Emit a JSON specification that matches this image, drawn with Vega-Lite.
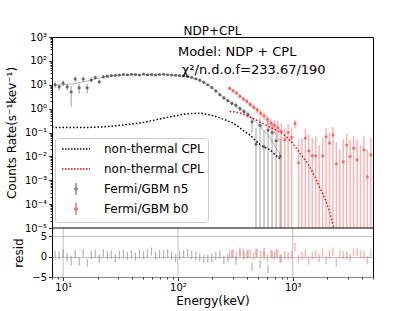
{
  "$schema": "https://vega.github.io/schema/vega-lite/v6.json",
  "width": 321,
  "height": 240,
  "autosize": "none",
  "padding": {"left": 52, "top": 37, "right": 42, "bottom": 34},
  "title": {"text": "NDP+CPL", "fontSize": 12, "fontWeight": "normal", "font": "DejaVu Sans", "offset": -6, "frame": "group", "color": "black"},
  "config": {
    "font": "DejaVu Sans",
    "view": {"stroke": "black", "strokeWidth": 1},
    "axis": {"labelFontSize": 10, "titleFontSize": 12, "titleFontWeight": "normal", "labelColor": "black", "titleColor": "black", "tickColor": "black", "tickWidth": 0.8, "domain": false, "grid": false, "labelFont": "DejaVu Sans", "titleFont": "DejaVu Sans", "labelOverlap": false, "labelFlush": false}
  },
  "datasets": {
    "n5": [
      {"s":"n5","e":8.51,"v":10,"lo":7.2,"hi":13.5,"rl":-0.5,"rh":1.5},
      {"s":"n5","e":9.23,"v":8.1,"lo":5.6,"hi":11,"rl":-0.7,"rh":1.3},
      {"s":"n5","e":10.0,"v":11.7,"lo":8.6,"hi":15,"rl":-0.2,"rh":1.8},
      {"s":"n5","e":10.84,"v":8.1,"lo":5.8,"hi":11,"rl":-1.2,"rh":0.8},
      {"s":"n5","e":11.75,"v":5.0,"lo":1.2,"hi":9,"rl":-2.2,"rh":0.2},
      {"s":"n5","e":12.74,"v":17.4,"lo":13.2,"hi":22,"rl":-0.4,"rh":1.6},
      {"s":"n5","e":13.8,"v":7.4,"lo":4.2,"hi":11,"rl":-2.2,"rh":-0.2},
      {"s":"n5","e":14.96,"v":17.4,"lo":13.5,"hi":22,"rl":-0.1,"rh":1.9},
      {"s":"n5","e":16.22,"v":7.4,"lo":4.3,"hi":11,"rl":-2.5,"rh":-0.5},
      {"s":"n5","e":17.58,"v":15.8,"lo":12.5,"hi":19.5,"rl":-0.6,"rh":1.4},
      {"s":"n5","e":19.05,"v":20,"lo":16.5,"hi":24,"rl":-0.3,"rh":1.7},
      {"s":"n5","e":20.65,"v":13.2,"lo":10.5,"hi":16,"rl":-1.5,"rh":0.5},
      {"s":"n5","e":22.39,"v":21.4,"lo":18.5,"hi":24.5,"rl":-0.2,"rh":1.8},
      {"s":"n5","e":24.27,"v":22.9,"lo":20,"hi":26,"rl":-0.7,"rh":1.3},
      {"s":"n5","e":26.3,"v":24,"lo":21.5,"hi":26.8,"rl":-0.5,"rh":1.5},
      {"s":"n5","e":28.51,"v":25.1,"lo":22.8,"hi":27.5,"rl":-1.3,"rh":0.7},
      {"s":"n5","e":30.9,"v":25.7,"lo":23.6,"hi":27.8,"rl":-0.6,"rh":1.4},
      {"s":"n5","e":33.5,"v":26.9,"lo":24.8,"hi":29.1,"rl":-0.4,"rh":1.6},
      {"s":"n5","e":36.31,"v":26.3,"lo":24.2,"hi":28.4,"rl":-0.8,"rh":1.2},
      {"s":"n5","e":39.36,"v":27.5,"lo":25.3,"hi":29.7,"rl":-0.5,"rh":1.5},
      {"s":"n5","e":42.66,"v":26.9,"lo":24.8,"hi":29.1,"rl":-1.0,"rh":1.0},
      {"s":"n5","e":46.24,"v":25.7,"lo":23.6,"hi":27.8,"rl":-0.3,"rh":1.7},
      {"s":"n5","e":50.12,"v":28.2,"lo":26.0,"hi":30.5,"rl":-0.7,"rh":1.3},
      {"s":"n5","e":54.33,"v":26.3,"lo":24.2,"hi":28.4,"rl":-0.1,"rh":1.9},
      {"s":"n5","e":58.88,"v":26.9,"lo":24.8,"hi":29.1,"rl":0.2,"rh":2.2},
      {"s":"n5","e":63.83,"v":25.7,"lo":23.6,"hi":27.8,"rl":-0.8,"rh":1.2},
      {"s":"n5","e":69.18,"v":26.9,"lo":24.8,"hi":29.1,"rl":-0.4,"rh":1.6},
      {"s":"n5","e":74.99,"v":27.5,"lo":25.3,"hi":29.7,"rl":-0.5,"rh":1.5},
      {"s":"n5","e":81.28,"v":26.3,"lo":24.2,"hi":28.4,"rl":-0.2,"rh":1.8},
      {"s":"n5","e":88.1,"v":25.7,"lo":23.6,"hi":27.8,"rl":-0.8,"rh":1.2},
      {"s":"n5","e":95.5,"v":25.1,"lo":23.1,"hi":27.1,"rl":-1.4,"rh":0.6},
      {"s":"n5","e":103.5,"v":24.0,"lo":22.1,"hi":26.0,"rl":-0.7,"rh":1.3},
      {"s":"n5","e":112.2,"v":23.4,"lo":21.5,"hi":25.3,"rl":-0.4,"rh":1.6},
      {"s":"n5","e":121.6,"v":21.9,"lo":20.1,"hi":23.7,"rl":-0.1,"rh":1.9},
      {"s":"n5","e":131.8,"v":20.4,"lo":18.7,"hi":22.1,"rl":-0.6,"rh":1.4},
      {"s":"n5","e":142.9,"v":17.8,"lo":16.3,"hi":19.3,"rl":-0.9,"rh":1.1},
      {"s":"n5","e":154.9,"v":15.5,"lo":14.1,"hi":16.9,"rl":-1.2,"rh":0.8},
      {"s":"n5","e":167.9,"v":12.6,"lo":11.4,"hi":13.8,"rl":-1.6,"rh":0.4},
      {"s":"n5","e":182.0,"v":10,"lo":9.0,"hi":11.0,"rl":-1.5,"rh":0.5},
      {"s":"n5","e":197.2,"v":7.6,"lo":6.8,"hi":8.4,"rl":-1.3,"rh":0.7},
      {"s":"n5","e":213.8,"v":5.5,"lo":4.9,"hi":6.1,"rl":-0.8,"rh":1.2},
      {"s":"n5","e":231.7,"v":3.8,"lo":3.3,"hi":4.3,"rl":-0.5,"rh":1.5},
      {"s":"n5","e":251.2,"v":2.8,"lo":2.4,"hi":3.2,"rl":-1.8,"rh":0.2},
      {"s":"n5","e":272.3,"v":2.14,"lo":1.8,"hi":2.5,"rl":-1.4,"rh":0.6},
      {"s":"n5","e":295.1,"v":1.66,"lo":1.35,"hi":2.0,"rl":-0.4,"rh":1.6},
      {"s":"n5","e":319.9,"v":1.38,"lo":1.1,"hi":1.7,"rl":-2.0,"rh":0.0},
      {"s":"n5","e":346.7,"v":1.0,"lo":0.78,"hi":1.25,"rl":0.2,"rh":2.2},
      {"s":"n5","e":375.8,"v":0.76,"lo":0.55,"hi":1.0,"rl":-0.7,"rh":1.3},
      {"s":"n5","e":407.4,"v":0.56,"lo":0.38,"hi":0.76,"rl":-0.2,"rh":1.8},
      {"s":"n5","e":441.6,"v":0.28,"lo":0.1,"hi":0.45,"rl":-3.5,"rh":-1.5},
      {"s":"n5","e":478.6,"v":0.032,"lo":0.000001,"hi":0.15,"rl":-0.1,"rh":1.9},
      {"s":"n5","e":518.8,"v":0.2,"lo":0.000001,"hi":0.4,"rl":-2.8,"rh":-0.8},
      {"s":"n5","e":562.3,"v":0.025,"lo":0.000001,"hi":0.12,"rl":0.1,"rh":2.1},
      {"s":"n5","e":609.5,"v":0.126,"lo":0.000001,"hi":0.3,"rl":-4.0,"rh":-2.0},
      {"s":"n5","e":660.7,"v":0.1,"lo":0.000001,"hi":0.25,"rl":-0.5,"rh":1.5},
      {"s":"n5","e":716.1,"v":0.045,"lo":0.000001,"hi":0.14,"rl":-0.2,"rh":1.8},
      {"s":"n5","e":776.2,"v":0.01,"lo":0.000001,"hi":0.06,"rl":-1.5,"rh":0.5}
    ],
    "b0": [
      {"s":"b0","e":281.8,"v":7.1,"lo":6.0,"hi":8.3,"rl":-0.5,"rh":1.5},
      {"s":"b0","e":302.0,"v":5.6,"lo":4.7,"hi":6.6,"rl":-0.2,"rh":1.8},
      {"s":"b0","e":323.6,"v":4.5,"lo":3.7,"hi":5.4,"rl":-0.7,"rh":1.3},
      {"s":"b0","e":346.7,"v":3.3,"lo":2.7,"hi":4.0,"rl":-0.4,"rh":1.6},
      {"s":"b0","e":371.5,"v":2.5,"lo":2.0,"hi":3.1,"rl":0.0,"rh":2.0},
      {"s":"b0","e":398.1,"v":2.0,"lo":1.6,"hi":2.5,"rl":-0.6,"rh":1.4},
      {"s":"b0","e":426.6,"v":1.5,"lo":1.15,"hi":1.9,"rl":-0.3,"rh":1.7},
      {"s":"b0","e":457.1,"v":1.12,"lo":0.85,"hi":1.45,"rl":-0.8,"rh":1.2},
      {"s":"b0","e":489.8,"v":0.89,"lo":0.65,"hi":1.15,"rl":-0.1,"rh":1.9},
      {"s":"b0","e":524.8,"v":0.63,"lo":0.45,"hi":0.85,"rl":-0.5,"rh":1.5},
      {"s":"b0","e":562.3,"v":0.5,"lo":0.33,"hi":0.7,"rl":-0.7,"rh":1.3},
      {"s":"b0","e":602.6,"v":0.355,"lo":0.2,"hi":0.52,"rl":-1.4,"rh":0.6},
      {"s":"b0","e":645.7,"v":0.25,"lo":0.12,"hi":0.4,"rl":-0.4,"rh":1.6},
      {"s":"b0","e":691.8,"v":0.2,"lo":0.08,"hi":0.34,"rl":-0.8,"rh":1.2},
      {"s":"b0","e":741.3,"v":0.158,"lo":0.04,"hi":0.3,"rl":-0.2,"rh":1.8},
      {"s":"b0","e":794.3,"v":0.112,"lo":0.000001,"hi":0.25,"rl":-1.5,"rh":0.5},
      {"s":"b0","e":851.1,"v":0.05,"lo":0.000001,"hi":0.15,"rl":-0.7,"rh":1.3},
      {"s":"b0","e":912.0,"v":0.1,"lo":0.000001,"hi":0.22,"rl":-0.9,"rh":1.1},
      {"s":"b0","e":977.2,"v":0.063,"lo":0.000001,"hi":0.16,"rl":-0.6,"rh":1.4},
      {"s":"b0","e":1047,"v":0.24,"lo":0.16,"hi":0.34,"rl":1.4,"rh":3.4},
      {"s":"b0","e":1122,"v":0.0054,"lo":0.000001,"hi":0.05,"rl":-1.6,"rh":0.4},
      {"s":"b0","e":1202,"v":null,"lo":0.000001,"hi":0.06,"rl":-0.8,"rh":1.2},
      {"s":"b0","e":1288,"v":0.059,"lo":0.000001,"hi":0.15,"rl":-0.2,"rh":1.8},
      {"s":"b0","e":1380,"v":0.017,"lo":0.000001,"hi":0.08,"rl":-2.0,"rh":0.0},
      {"s":"b0","e":1479,"v":0.0105,"lo":0.000001,"hi":0.06,"rl":-0.7,"rh":1.3},
      {"s":"b0","e":1585,"v":0.0105,"lo":0.000001,"hi":0.07,"rl":-0.4,"rh":1.6},
      {"s":"b0","e":1698,"v":null,"lo":0.000001,"hi":0.03,"rl":-1.3,"rh":0.7},
      {"s":"b0","e":1820,"v":0.0105,"lo":0.000001,"hi":0.06,"rl":-0.1,"rh":1.9},
      {"s":"b0","e":1950,"v":0.066,"lo":0.000001,"hi":0.15,"rl":-1.8,"rh":0.2},
      {"s":"b0","e":2089,"v":0.036,"lo":0.000001,"hi":0.1,"rl":-0.5,"rh":1.5},
      {"s":"b0","e":2239,"v":0.079,"lo":0.000001,"hi":0.17,"rl":0.2,"rh":2.2},
      {"s":"b0","e":2399,"v":0.0049,"lo":0.000001,"hi":0.04,"rl":-2.5,"rh":-0.5},
      {"s":"b0","e":2570,"v":null,"lo":0.000001,"hi":0.02,"rl":-0.3,"rh":1.7},
      {"s":"b0","e":2754,"v":0.0059,"lo":0.000001,"hi":0.05,"rl":-0.6,"rh":1.4},
      {"s":"b0","e":2951,"v":0.03,"lo":0.000001,"hi":0.09,"rl":-0.7,"rh":1.3},
      {"s":"b0","e":3162,"v":0.01,"lo":0.000001,"hi":0.05,"rl":-1.4,"rh":0.6},
      {"s":"b0","e":3388,"v":0.022,"lo":0.000001,"hi":0.07,"rl":0.0,"rh":2.0},
      {"s":"b0","e":3631,"v":0.0071,"lo":0.000001,"hi":0.05,"rl":0.1,"rh":2.1},
      {"s":"b0","e":3890,"v":null,"lo":0.000001,"hi":0.03,"rl":-0.4,"rh":1.6},
      {"s":"b0","e":4169,"v":0.0186,"lo":0.000001,"hi":0.07,"rl":-0.6,"rh":1.4},
      {"s":"b0","e":4467,"v":0.00138,"lo":0.000001,"hi":0.02,"rl":-1.9,"rh":0.1},
      {"s":"b0","e":4786,"v":0.0115,"lo":0.000001,"hi":0.06,"rl":-0.2,"rh":1.8}
    ],
    "cpl": [
      {"s":"cpln5","e":8,"v":0.162},{"s":"cpln5","e":14,"v":0.162},{"s":"cpln5","e":20.9,"v":0.17},
      {"s":"cpln5","e":25,"v":0.18},{"s":"cpln5","e":31.2,"v":0.2},{"s":"cpln5","e":38,"v":0.22},
      {"s":"cpln5","e":46.6,"v":0.25},{"s":"cpln5","e":57,"v":0.3},{"s":"cpln5","e":69.5,"v":0.37},
      {"s":"cpln5","e":80,"v":0.43},{"s":"cpln5","e":93.9,"v":0.49},{"s":"cpln5","e":105,"v":0.55},
      {"s":"cpln5","e":119,"v":0.6},{"s":"cpln5","e":137,"v":0.63},{"s":"cpln5","e":155,"v":0.64},
      {"s":"cpln5","e":172,"v":0.6},{"s":"cpln5","e":189,"v":0.55},{"s":"cpln5","e":210,"v":0.48},
      {"s":"cpln5","e":231,"v":0.41},{"s":"cpln5","e":265,"v":0.32},{"s":"cpln5","e":300,"v":0.25},
      {"s":"cpln5","e":345,"v":0.16},{"s":"cpln5","e":380,"v":0.11},{"s":"cpln5","e":421,"v":0.08},
      {"s":"cpln5","e":470,"v":0.048},{"s":"cpln5","e":515,"v":0.032},{"s":"cpln5","e":570,"v":0.024},
      {"s":"cpln5","e":629,"v":0.019},{"s":"cpln5","e":700,"v":0.0118},{"s":"cpln5","e":769,"v":0.008},
      {"s":"cplb0","e":282,"v":0.75},{"s":"cplb0","e":345,"v":0.66},{"s":"cplb0","e":421,"v":0.45},
      {"s":"cplb0","e":515,"v":0.28},{"s":"cplb0","e":629,"v":0.17},{"s":"cplb0","e":769,"v":0.107},
      {"s":"cplb0","e":940,"v":0.049},{"s":"cplb0","e":1148,"v":0.0141},{"s":"cplb0","e":1403,"v":0.0036},
      {"s":"cplb0","e":1712,"v":0.00052},{"s":"cplb0","e":2091,"v":0.000048},{"s":"cplb0","e":2265,"v":0.0000112}
    ],
    "model": [
      {"s":"n5","e":8.51,"v":9.5},{"s":"n5","e":10,"v":10},{"s":"n5","e":12.6,"v":11.2},{"s":"n5","e":15.8,"v":14.1},
      {"s":"n5","e":20,"v":18.6},{"s":"n5","e":25.1,"v":22.9},{"s":"n5","e":31.6,"v":25.1},{"s":"n5","e":39.8,"v":25.7},
      {"s":"n5","e":50.1,"v":26.3},{"s":"n5","e":63.1,"v":26.3},{"s":"n5","e":79.4,"v":26.3},{"s":"n5","e":100,"v":25.1},
      {"s":"n5","e":126,"v":20.9},{"s":"n5","e":158,"v":14.5},{"s":"n5","e":200,"v":7.6},{"s":"n5","e":251,"v":2.8},
      {"s":"n5","e":316,"v":1.41},{"s":"n5","e":398,"v":0.63},{"s":"n5","e":501,"v":0.22},{"s":"n5","e":631,"v":0.063},
      {"s":"n5","e":794,"v":0.01},
      {"s":"b0","e":282,"v":7.1},{"s":"b0","e":320,"v":4.8},{"s":"b0","e":360,"v":3.0},{"s":"b0","e":400,"v":2.0},
      {"s":"b0","e":450,"v":1.25},{"s":"b0","e":500,"v":0.85},{"s":"b0","e":560,"v":0.52},{"s":"b0","e":630,"v":0.3},
      {"s":"b0","e":700,"v":0.2},{"s":"b0","e":800,"v":0.11}
    ],
    "ann": [
      {"t":"Model: NDP + CPL","e":100,"v":235},
      {"t":"χ²/n.d.o.f=233.67/190","e":108,"v":42}
    ],
    "keys": [{"s":"cpln5"},{"s":"cplb0"},{"s":"n5"},{"s":"b0"}],
    "grid": [{"e":10},{"e":100},{"e":1000}]
  },
  "layer": [
    {
      "layer": [
        {
          "data": {"name": "n5"},
          "mark": {"type": "rule", "strokeWidth": 1.3, "opacity": 0.6, "color": "#808080"},
          "encoding": {
            "x": {"field": "e", "type": "quantitative",
              "scale": {"type": "log", "domain": [8, 5000], "nice": false},
              "axis": {
                "title": "Energy(keV)",
                "values": [8,9,10,20,30,40,50,60,70,80,90,100,200,300,400,500,600,700,800,900,1000,2000,3000,4000,5000],
                "labelExpr": "abs(log(datum.value)/LN10-round(log(datum.value)/LN10))<0.001 ? '10' + ['⁰','¹','²','³'][round(log(datum.value)/LN10)] : ''",
                "tickSize": {"condition": {"test": "abs(log(datum.value)/LN10-round(log(datum.value)/LN10))<0.001", "value": 3.5}, "value": 2},
                "labelPadding": 2,
                "titlePadding": 3
              }
            },
            "y": {"field": "lo", "type": "quantitative",
              "scale": {"type": "log", "domain": [0.00001, 1000], "range": [191, 0], "nice": false, "clamp": true},
              "axis": {
                "orient": "left",
                "title": "Counts Rate(s⁻¹kev⁻¹)",
                "values": [0.00001,0.00002,0.00003,0.00004,0.00005,0.00006,0.00007,0.00008,0.00009,0.0001,0.0002,0.0003,0.0004,0.0005,0.0006,0.0007,0.0008,0.0009,0.001,0.002,0.003,0.004,0.005,0.006,0.007,0.008,0.009,0.01,0.02,0.03,0.04,0.05,0.06,0.07,0.08,0.09,0.1,0.2,0.3,0.4,0.5,0.6,0.7,0.8,0.9,1,2,3,4,5,6,7,8,9,10,20,30,40,50,60,70,80,90,100,200,300,400,500,600,700,800,900,1000],
                "labelExpr": "abs(log(datum.value)/LN10-round(log(datum.value)/LN10))<0.001 ? '10' + ['⁻⁵','⁻⁴','⁻³','⁻²','⁻¹','⁰','¹','²','³'][round(log(datum.value)/LN10)+5] : ''",
                "tickSize": {"condition": {"test": "abs(log(datum.value)/LN10-round(log(datum.value)/LN10))<0.001", "value": 3.5}, "value": 2},
                "labelPadding": 2,
                "titlePadding": 6
              }
            },
            "y2": {"field": "hi"}
          }
        },
        {
          "data": {"name": "b0"},
          "mark": {"type": "rule", "strokeWidth": 1.5, "opacity": 0.4, "color": "#ff4040"},
          "encoding": {
            "x": {"field": "e", "type": "quantitative"},
            "y": {"field": "lo", "type": "quantitative"},
            "y2": {"field": "hi"}
          }
        },
        {
          "data": {"name": "model"},
          "mark": {"type": "line", "strokeWidth": 1, "opacity": 0.55, "color": "#777777"},
          "encoding": {
            "x": {"field": "e", "type": "quantitative"},
            "y": {"field": "v", "type": "quantitative"}
          },
          "transform": [{"filter": "datum.s=='n5'"}]
        },
        {
          "data": {"name": "model"},
          "mark": {"type": "line", "strokeWidth": 1, "opacity": 0.4, "color": "#ff3030"},
          "encoding": {
            "x": {"field": "e", "type": "quantitative"},
            "y": {"field": "v", "type": "quantitative"}
          },
          "transform": [{"filter": "datum.s=='b0'"}]
        },
        {
          "data": {"name": "cpl"},
          "mark": {"type": "line", "strokeWidth": 1.5, "strokeDash": [1.5, 2], "interpolate": "monotone", "color": "black"},
          "encoding": {
            "x": {"field": "e", "type": "quantitative"},
            "y": {"field": "v", "type": "quantitative"}
          },
          "transform": [{"filter": "datum.s=='cpln5'"}]
        },
        {
          "data": {"name": "cpl"},
          "mark": {"type": "line", "strokeWidth": 1.5, "strokeDash": [1.5, 2], "interpolate": "monotone", "color": "red"},
          "encoding": {
            "x": {"field": "e", "type": "quantitative"},
            "y": {"field": "v", "type": "quantitative"}
          },
          "transform": [{"filter": "datum.s=='cplb0'"}]
        },
        {
          "data": {"name": "n5"},
          "mark": {"type": "circle", "size": 10, "color": "#505050", "opacity": 0.8},
          "encoding": {
            "x": {"field": "e", "type": "quantitative"},
            "y": {"field": "v", "type": "quantitative"}
          }
        },
        {
          "data": {"name": "b0"},
          "mark": {"type": "circle", "size": 10, "color": "#ff4040", "opacity": 0.7},
          "encoding": {
            "x": {"field": "e", "type": "quantitative"},
            "y": {"field": "v", "type": "quantitative"}
          }
        },
        {
          "data": {"name": "ann"},
          "mark": {"type": "text", "align": "left", "baseline": "middle", "fontSize": 13, "font": "DejaVu Sans", "color": "black"},
          "encoding": {
            "x": {"field": "e", "type": "quantitative"},
            "y": {"field": "v", "type": "quantitative"},
            "text": {"field": "t"}
          }
        },
        {
          "data": {"name": "keys"},
          "mark": {"type": "point", "opacity": 1, "strokeWidth": 1.5, "filled": false},
          "encoding": {
            "x": {"field": "e", "type": "quantitative"},
            "y": {"field": "v", "type": "quantitative"},
            "color": {"field": "s", "type": "nominal",
              "scale": {"domain": ["cpln5", "cplb0", "n5", "b0"], "range": ["black", "red", "#8c8c8c", "#ff7070"]},
              "legend": {
                "orient": "none", "legendX": 3, "legendY": 101, "title": null,
                "labelExpr": "datum.value=='cpln5'||datum.value=='cplb0' ? 'non-thermal CPL' : datum.value=='n5' ? 'Fermi/GBM n5' : 'Fermi/GBM b0'",
                "labelFontSize": 12, "labelFont": "DejaVu Sans", "labelColor": "black",
                "symbolSize": 144, "symbolStrokeWidth": 1.5, "symbolOffset": 10, "labelOffset": 21,
                "rowPadding": 2, "padding": 4, "gridAlign": "all",
                "strokeColor": "#cccccc", "cornerRadius": 3, "fillColor": "white"
              }
            },
            "shape": {"field": "s", "type": "nominal",
              "scale": {"domain": ["cpln5", "cplb0", "n5", "b0"], "range": ["M-2.33,0L2.33,0", "M-2.33,0L2.33,0", "M0,-1L0,1M-0.25,0L0,-0.25L0.25,0L0,0.25Z", "M0,-1L0,1M-0.25,0L0,-0.25L0.25,0L0,0.25Z"]},
              "legend": {
                "orient": "none", "legendX": 3, "legendY": 101, "title": null,
                "labelExpr": "datum.value=='cpln5'||datum.value=='cplb0' ? 'non-thermal CPL' : datum.value=='n5' ? 'Fermi/GBM n5' : 'Fermi/GBM b0'",
                "labelFontSize": 12, "labelFont": "DejaVu Sans", "labelColor": "black",
                "symbolSize": 144, "symbolStrokeWidth": 1.5, "symbolOffset": 10, "labelOffset": 21,
                "rowPadding": 2, "padding": 4, "gridAlign": "all",
                "strokeColor": "#cccccc", "cornerRadius": 3, "fillColor": "white"
              }
            },
            "strokeDash": {"field": "s", "type": "nominal",
              "scale": {"domain": ["cpln5", "cplb0", "n5", "b0"], "range": [[1.5, 1.5], [1.5, 1.5], [1, 0], [1, 0]]},
              "legend": {
                "orient": "none", "legendX": 3, "legendY": 101, "title": null,
                "labelExpr": "datum.value=='cpln5'||datum.value=='cplb0' ? 'non-thermal CPL' : datum.value=='n5' ? 'Fermi/GBM n5' : 'Fermi/GBM b0'",
                "labelFontSize": 12, "labelFont": "DejaVu Sans", "labelColor": "black",
                "symbolSize": 144, "symbolStrokeWidth": 1.5, "symbolOffset": 10, "labelOffset": 21,
                "rowPadding": 2, "padding": 4, "gridAlign": "all",
                "strokeColor": "#cccccc", "cornerRadius": 3, "fillColor": "white"
              }
            }
          }
        }
      ]
    },
    {
      "layer": [
        {
          "data": {"name": "grid"},
          "mark": {"type": "rule", "color": "#b0b0b0", "strokeWidth": 0.8},
          "encoding": {
            "x": {"field": "e", "type": "quantitative"},
            "y": {"datum": -5, "type": "quantitative",
              "scale": {"domain": [-5, 7], "range": [240, 191], "nice": false, "zero": false},
              "axis": {"orient": "left", "title": "resid", "values": [-5, 0, 5], "grid": true, "gridColor": "#b0b0b0", "gridWidth": 0.8, "tickSize": 3.5, "labelPadding": 2, "titlePadding": 6}
            },
            "y2": {"datum": 7}
          }
        },
        {
          "data": {"name": "n5"},
          "mark": {"type": "rule", "strokeWidth": 1.2, "opacity": 0.6, "color": "#808080"},
          "encoding": {
            "x": {"field": "e", "type": "quantitative"},
            "y": {"field": "rl", "type": "quantitative"},
            "y2": {"field": "rh"}
          }
        },
        {
          "data": {"name": "b0"},
          "mark": {"type": "rule", "strokeWidth": 1.4, "opacity": 0.4, "color": "#ff4040"},
          "encoding": {
            "x": {"field": "e", "type": "quantitative"},
            "y": {"field": "rl", "type": "quantitative"},
            "y2": {"field": "rh"}
          }
        },
        {
          "data": {"values": [{}]},
          "mark": {"type": "rule", "color": "black", "strokeWidth": 1},
          "encoding": {"y": {"datum": 7, "type": "quantitative"}}
        }
      ]
    }
  ],
  "resolve": {"scale": {"y": "independent"}, "axis": {"y": "independent"}}
}
